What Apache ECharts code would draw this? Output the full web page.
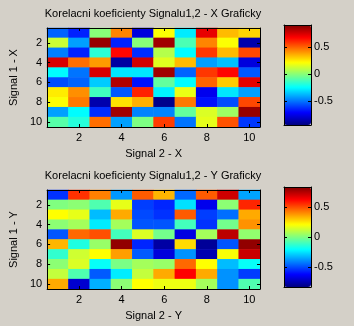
<!DOCTYPE html>
<html>
<head>
<meta charset="utf-8">
<script src="https://cdn.jsdelivr.net/npm/echarts@6/dist/echarts.min.js"></script>
<style>
html,body{margin:0;padding:0;background:#d4d0c8;}
#c{width:354px;height:326px;}
</style>
</head>
<body>
<div id="c"></div>
<script>
const colCats = ['1','2','3','4','5','6','7','8','9','10'];
const rowCats = ['1','2','3','4','5','6','7','8','9','10'];
const titleX = 'Korelacni koeficienty Signalu1,2 - X Graficky';
const titleY = 'Korelacni koeficienty Signalu1,2 - Y Graficky';
const colorbarTicks = [-0.5, 0, 0.5];
const rangeX = [-0.94, 0.91];
const rangeY = [-0.84, 0.84];

const corrX = [
  [-0.53,-0.65, 0.00, 0.44,-0.77, 0.21,-0.28, 0.72, 0.34, 0.29],
  [ 0.12,-0.42, 0.87,-0.65, 0.00, 0.85,-0.11, 0.44, 0.21,-0.86],
  [-0.48,-0.65,-0.17, 0.67,-0.63, 0.08,-0.25, 0.58, 0.34, 0.55],
  [ 0.75, 0.48, 0.40,-0.88, 0.76, 0.16, 0.34,-0.42,-0.36,-0.77],
  [-0.25,-0.50, 0.75,-0.29,-0.29, 0.85,-0.53, 0.58, 0.67,-0.55],
  [-0.57,-0.53,-0.34, 0.82,-0.68,-0.07,-0.25, 0.50, 0.31, 0.73],
  [ 0.25, 0.42,-0.13,-0.55, 0.62,-0.27, 0.18,-0.74,-0.29,-0.42],
  [ 0.21, 0.46,-0.86, 0.27, 0.36,-0.92, 0.46,-0.68,-0.57, 0.55],
  [-0.42,-0.25,-0.63, 0.85,-0.47,-0.47,-0.07, 0.15, 0.04, 0.87],
  [-0.09,-0.18, 0.48,-0.42,-0.02, 0.57,-0.50, 0.17, 0.53,-0.61]
];
const corrY = [
  [-0.55, 0.55, 0.42,-0.38, 0.48, 0.33,-0.46, 0.48, 0.71,-0.36],
  [ 0.00, 0.02,-0.08, 0.17,-0.53,-0.57,-0.26,-0.66, 0.02, 0.57],
  [ 0.21, 0.17,-0.32, 0.35,-0.51,-0.55, 0.48,-0.53,-0.45, 0.35],
  [ 0.02, 0.06,-0.24, 0.06,-0.49,-0.49,-0.10,-0.55,-0.02, 0.39],
  [-0.49, 0.46, 0.50,-0.10, 0.15,-0.02,-0.68, 0.06, 0.74, 0.03],
  [ 0.33,-0.16, 0.04, 0.81,-0.57,-0.78, 0.27,-0.80,-0.49, 0.81],
  [-0.13, 0.13, 0.21, 0.37,-0.48,-0.69,-0.39,-0.76, 0.20, 0.72],
  [ 0.02, 0.15,-0.20,-0.01, 0.06, 0.04, 0.46, 0.21,-0.32,-0.20],
  [ 0.11,-0.08,-0.48,-0.24, 0.11, 0.35, 0.63, 0.35,-0.39,-0.53],
  [ 0.35,-0.71,-0.34, 0.02, 0.21, 0.18, 0.18, 0.06,-0.39,-0.08]
];

const jet = ['#000080','#0000ff','#0080ff','#00ffff','#80ff80','#ffff00','#ff8000','#ff0000','#800000'];
const FONT = '"Liberation Sans", Arial, sans-serif';
const black = '#000';

function toCells(m){
  const out = [];
  m.forEach((row, r) => row.forEach((v, c) => out.push([c, r, v])));
  return out;
}

const everyOther = (i) => i % 2 === 1;
const gridsPos = [
  {left:46, top:28, width:214, height:99},
  {left:46, top:190, width:214, height:99},
  {left:284, top:25, width:27, height:100},
  {left:284, top:187, width:27, height:100}
];

const xAxes = [], yAxes = [];
function catX(grid, pos, labels, name){
  return {
    type:'category', gridIndex:grid, position:pos, data:colCats, z:10,
    axisLine:{show:true, lineStyle:{color:black, width:1}},
    axisTick:{show:true, inside:true, length:3, alignWithLabel:true, interval:everyOther, lineStyle:{color:black}},
    axisLabel:{show:labels, interval:everyOther, color:black, fontFamily:FONT, fontSize:11, margin:5},
    splitLine:{show:false},
    name: name || '', nameLocation:'middle', nameGap:21,
    nameTextStyle:{color:black, fontFamily:FONT, fontSize:11}
  };
}
function catY(grid, pos, labels, name){
  return {
    type:'category', gridIndex:grid, position:pos, data:rowCats, inverse:true, z:10,
    axisLine:{show:true, lineStyle:{color:black, width:1}},
    axisTick:{show:true, inside:true, length:3, alignWithLabel:true, interval:everyOther, lineStyle:{color:black}},
    axisLabel:{show:labels, interval:everyOther, color:black, fontFamily:FONT, fontSize:11, margin:5},
    splitLine:{show:false},
    name: name || '', nameLocation:'middle', nameGap:19,
    nameTextStyle:{color:black, fontFamily:FONT, fontSize:11}
  };
}
function cbX(grid, pos){
  return {
    type:'value', gridIndex:grid, position:pos, min:0, max:1, z:10,
    axisLine:{show:true, onZero:false, lineStyle:{color:black}},
    axisTick:{show:false}, axisLabel:{show:false}, splitLine:{show:false}
  };
}
function cbY(grid, pos, labels, range){
  return {
    type:'value', gridIndex:grid, position:pos, min:range[0], max:range[1], z:10,
    axisLine:{show:true, onZero:false, lineStyle:{color:black}},
    axisTick:{show:true, inside:true, length:3, customValues:colorbarTicks, lineStyle:{color:black}},
    axisLabel:{show:labels, customValues:colorbarTicks, color:black, fontFamily:FONT, fontSize:11, margin:3},
    splitLine:{show:false}
  };
}

xAxes.push(catX(0,'bottom',true,'Signal 2 - X'), catX(0,'top',false));
yAxes.push(catY(0,'left',true,'Signal 1 - X'), catY(0,'right',false));
xAxes.push(catX(1,'bottom',true,'Signal 2 - Y'), catX(1,'top',false));
yAxes.push(catY(1,'left',true,'Signal 1 - Y'), catY(1,'right',false));
xAxes.push(cbX(2,'bottom'), cbX(2,'top'));
yAxes.push(cbY(2,'left',false,rangeX), cbY(2,'right',true,rangeX));
xAxes.push(cbX(3,'bottom'), cbX(3,'top'));
yAxes.push(cbY(3,'left',false,rangeY), cbY(3,'right',true,rangeY));

const chart = echarts.init(document.getElementById('c'), null, {renderer:'canvas'});
chart.setOption({
  backgroundColor:'#d4d0c8',
  animation:false,
  title:[
    {text:titleX, left:153, top:8, textAlign:'center', padding:0,
     textStyle:{color:black, fontFamily:FONT, fontSize:11, fontWeight:'normal'}},
    {text:titleY, left:153, top:170, textAlign:'center', padding:0,
     textStyle:{color:black, fontFamily:FONT, fontSize:11, fontWeight:'normal'}}
  ],
  grid: gridsPos.map(g => Object.assign({containLabel:false, show:false}, g)),
  xAxis: xAxes,
  yAxis: yAxes,
  visualMap:[
    {type:'continuous', seriesIndex:0, min:rangeX[0], max:rangeX[1], calculable:false,
     orient:'vertical', left:284, top:25, itemWidth:27, itemHeight:100, padding:0,
     inRange:{color:jet}, text:null, showLabel:false, hoverLink:false},
    {type:'continuous', seriesIndex:1, min:rangeY[0], max:rangeY[1], calculable:false,
     orient:'vertical', left:284, top:187, itemWidth:27, itemHeight:100, padding:0,
     inRange:{color:jet}, text:null, showLabel:false, hoverLink:false}
  ],
  series:[
    {type:'heatmap', xAxisIndex:0, yAxisIndex:0, data:toCells(corrX), emphasis:{disabled:true}, progressive:0},
    {type:'heatmap', xAxisIndex:2, yAxisIndex:2, data:toCells(corrY), emphasis:{disabled:true}, progressive:0}
  ]
});
</script>
</body>
</html>
